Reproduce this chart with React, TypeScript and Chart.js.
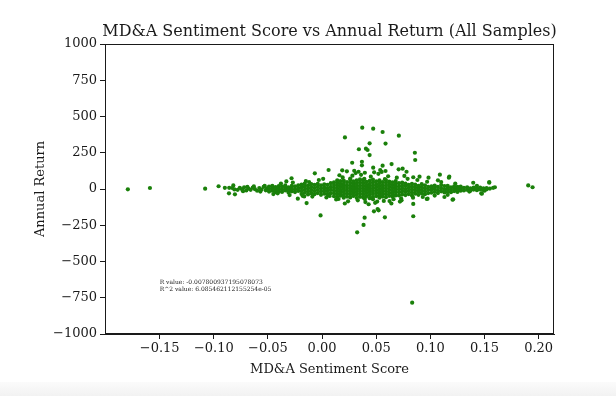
import React, { useEffect, useRef } from "react";
import { Chart, registerables } from "chart.js";

Chart.register(...registerables);

const TITLE = "MD&A Sentiment Score vs Annual Return (All Samples)";
const X_LABEL = "MD&A Sentiment Score";
const Y_LABEL = "Annual Return";
const NOTE_LINES = ["R value: -0.007800937195078073", "R^2 value: 6.085462112155254e-05"];
const NOTE_AT = { x: -0.15, y: -700 };

const xTicks = [-0.15, -0.1, -0.05, 0, 0.05, 0.1, 0.15, 0.2];
const yTicks = [-1000, -750, -500, -250, 0, 250, 500, 750, 1000];
const X_RANGE = { min: -0.2005, max: 0.2142 };
const Y_RANGE = { min: -1000, max: 1000 };

// isolated points far from the cluster
const farOutliers: [number, number][] = [
  [-0.1794, -2], [-0.159, 7], [-0.108, 2], [-0.0956, 19], [-0.0898, 8], [-0.0858, 8],
  [-0.086, -30], [-0.0805, -37], [-0.082, 25], [0.1904, 25], [0.1944, 12], [0.1544, 48],
  [0.1476, -32], [0.1596, 12], [0.1396, 43], [0.1175, 85], [0.121, -71],
];

// points well above the cluster
const highOutliers: [number, number][] = [
  [0.0371, 423], [0.0472, 416], [0.0559, 393], [0.0709, 368], [0.0211, 356], [0.0439, 315],
  [0.0586, 313], [0.034, 274], [0.0405, 278], [0.042, 269], [0.0439, 234], [0.0857, 250],
  [0.086, 200], [0.0278, 181], [0.0368, 188], [0.0368, 163], [0.0642, 172], [0.006, 131],
  [-0.0067, 108], [0.0186, 129], [0.0229, 122], [0.0297, 126], [-0.0282, 74], [0.0337, 119],
  [0.0395, 112], [0.0472, 147], [0.0559, 161], [0.0586, 124], [0.0481, 115], [0.0537, 131],
  [0.0707, 136], [0.0744, 140], [0.078, 119], [0.0842, 81], [0.1088, 99], [0.1171, 78],
  [0.0983, 78],
];

// points well below the cluster
const lowOutliers: [number, number][] = [
  [-0.0014, -182], [0.0393, -198], [0.058, -195], [0.0842, -188], [0.0383, -248], [0.0324, -299],
  [0.0479, -154], [0.0513, -138], [0.0522, -147], [-0.0143, -97], [0.0842, -103], [0.1205, -74],
  [0.0832, -784], [0.0509, -87], [0.0623, -83], [0.0719, -87], [0.0967, -69], [0.0152, -69],
  [0.0395, -69], [-0.0224, -67], [-0.0165, -51], [0.0974, -67], [0.0734, -78],
];

// left tail of the cluster
const leftTail: [number, number][] = [
  [-0.083, 7], [-0.081, -3], [-0.078, -6], [-0.076, 8], [-0.074, -2], [-0.072, 12], [-0.07, -10],
  [-0.068, 3], [-0.066, -6], [-0.064, 10], [-0.062, -1], [-0.06, -12], [-0.058, 7], [-0.056, -4],
  [-0.054, 14], [-0.052, -9], [-0.051, 4], [-0.063, 18], [-0.057, -18], [-0.069, 15], [-0.073, -15],
  [-0.053, 22],
  [-0.049, -18], [-0.049, 0], [-0.049, 17], [-0.046, -12], [-0.046, 6], [-0.046, 22],
  [-0.043, -22], [-0.043, -5], [-0.043, 13], [-0.04, -15], [-0.04, 3], [-0.04, 20],
  [-0.037, -20], [-0.037, -2], [-0.037, 16], [-0.034, -10], [-0.034, 8], [-0.034, 25],
  [-0.031, -24], [-0.031, -6], [-0.031, 12], [-0.028, -16], [-0.028, 2], [-0.028, 21],
  [-0.025, -21], [-0.025, -4], [-0.025, 18], [-0.022, -13], [-0.022, 5], [-0.022, 26],
  [-0.045, -35], [-0.038, 38], [-0.03, -42], [-0.027, 45], [-0.033, 52], [-0.041, -30],
];

// centre of the cluster: x of each column and the returns read in it
const coreColsX = [
  -0.019, -0.016, -0.013, -0.01, -0.007, -0.004, -0.001, 0.002, 0.005, 0.008,
  0.011, 0.014, 0.017, 0.02, 0.023, 0.026, 0.029, 0.032, 0.035, 0.038,
  0.041, 0.044, 0.047, 0.05, 0.053, 0.056, 0.059, 0.062, 0.065, 0.068,
];
const coreColsY = [
  [-34, -12, 9, 30], [-26, -5, 16, 37], [-38, -17, 4, 24], [-30, -9, 12, 33], [-36, -14, 7, 28],
  [-28, -7, 14, 36], [-40, -18, 3, 25], [-32, -10, 11, 32], [-37, -15, 6, 29], [-29, -6, 15, 40],
  [-50, -30, -11, 8, 27, 46], [-56, -36, -16, 3, 22, 41, 60], [-46, -25, -5, 14, 33, 54],
  [-60, -40, -20, -1, 18, 37, 58], [-52, -31, -12, 7, 26, 48], [-58, -37, -17, 2, 21, 42, 63],
  [-48, -27, -8, 11, 30, 52], [-62, -41, -21, -2, 17, 38, 60], [-54, -33, -13, 6, 25, 46, 66],
  [-59, -38, -18, 1, 20, 40, 61], [-50, -29, -9, 10, 29, 50], [-63, -42, -22, -3, 16, 36, 57],
  [-55, -34, -14, 5, 24, 45, 64], [-49, -28, -8, 12, 31, 53], [-60, -39, -19, 0, 19, 39, 59],
  [-52, -31, -11, 8, 27, 48], [-57, -36, -16, 3, 22, 43, 62], [-47, -26, -6, 13, 32, 51],
  [-53, -32, -12, 7, 26, 46], [-44, -23, -3, 16, 35, 55],
];
const coreScatter: [number, number][] = [
  [-0.015, 55], [-0.009, -52], [-0.003, 62], [0.004, -58], [-0.012, 48], [0.007, -48], [-0.018, -47],
  [0.001, 70], [0.013, -72], [0.019, 80], [0.024, -85], [0.028, 92], [0.033, -78], [0.036, 98],
  [0.04, -90], [0.045, 85], [0.049, -95], [0.052, 105], [0.057, -82], [0.061, 88], [0.066, -70],
  [0.069, 78], [0.016, 95], [0.031, 110], [0.043, -105], [0.055, 118], [0.064, -100], [0.021, -100],
  [0.039, 70], [0.047, -70], [0.026, 72], [0.058, 68],
];

// right part of the cluster
const rightColsX = [
  0.071, 0.074, 0.077, 0.08, 0.083, 0.086, 0.089, 0.092, 0.095, 0.098,
  0.101, 0.104, 0.107, 0.11, 0.113, 0.116, 0.119, 0.122, 0.125, 0.128,
  0.131, 0.134, 0.137, 0.14, 0.143, 0.146, 0.149, 0.152,
];
const rightColsY = [
  [-44, -22, -2, 18, 40], [-38, -16, 4, 24, 45], [-42, -20, 0, 21, 38], [-35, -13, 8, 28],
  [-45, -24, -4, 16, 36], [-32, -10, 10, 30], [-40, -18, 2, 22], [-30, -9, 12, 33],
  [-36, -15, 5, 26], [-28, -6, 14],
  [-26, -4, 18], [-20, 2, 24], [-28, -8, 14], [-16, 5, 27], [-24, -3, 20], [-18, 4, 22],
  [-22, -6, 12], [-14, 3, 19], [-20, -2, 15], [-12, 4, 17],
  [-10, 8], [-6, 12], [-12, 5], [-4, 10], [-8, 6], [-3, 9], [-7, 4], [-2, 6],
];
const rightScatter: [number, number][] = [
  [0.073, -65], [0.079, 70], [0.084, -60], [0.088, 62], [0.093, -55], [0.097, 50], [0.076, 90],
  [0.09, 85], [0.104, -45], [0.11, 48], [0.116, -40], [0.123, 38], [0.107, 60], [0.113, -55],
  [0.155, 3], [0.158, 8], [0.1544, 43], [0.147, -30], [0.136, -18], [0.143, 22], [0.15, -12],
];

const POINT_COLOR = "#1a800a";
const FONT = "'DejaVu Serif', serif";
const INK = "#1a1a1a";

const minus = (v: number, d: number) => {
  const s = Math.abs(v).toFixed(d);
  return v < -1e-12 ? "\u2212" + s : s;
};

const columns = (xs: number[], ys: number[][]): [number, number][] =>
  xs.flatMap((x, i) => ys[i].map((y) => [x, y] as [number, number]));

const framePlugin = {
  id: "frameAndNote",
  afterDraw(chart: any) {
    const { ctx, chartArea, scales } = chart;
    ctx.save();
    ctx.strokeStyle = INK;
    ctx.lineWidth = 1;
    ctx.strokeRect(chartArea.left + 0.5, chartArea.top + 0.5, chartArea.right - chartArea.left - 1, chartArea.bottom - chartArea.top - 1);
    // title centred over the plot area
    ctx.fillStyle = INK;
    ctx.font = "16px " + FONT;
    ctx.textAlign = "center";
    ctx.textBaseline = "alphabetic";
    ctx.fillText(TITLE, (chartArea.left + chartArea.right) / 2, chartArea.top - 8);
    // regression note
    ctx.font = "6px " + FONT;
    ctx.textAlign = "left";
    const nx = scales.x.getPixelForValue(NOTE_AT.x);
    const ny = scales.y.getPixelForValue(NOTE_AT.y);
    NOTE_LINES.forEach((line, i) => {
      ctx.fillText(line, nx, ny - (NOTE_LINES.length - 1 - i) * 7);
    });
    ctx.restore();
  },
};

export default function App() {
  const ref = useRef<HTMLCanvasElement>(null);
  useEffect(() => {
    const all: [number, number][] = [
      ...farOutliers,
      ...highOutliers,
      ...lowOutliers,
      ...leftTail,
      ...columns(coreColsX, coreColsY),
      ...coreScatter,
      ...columns(rightColsX, rightColsY),
      ...rightScatter,
    ];
    const tickFont = { family: FONT, size: 13 };
    const chart = new Chart(ref.current!, {
      type: "scatter",
      data: {
        datasets: [
          {
            data: all.map(([x, y]) => ({ x, y })),
            backgroundColor: POINT_COLOR,
            borderColor: POINT_COLOR,
            borderWidth: 0,
            pointRadius: 2.1,
          },
        ],
      },
      options: {
        responsive: false,
        animation: false,
        devicePixelRatio: 1,
        layout: { padding: { left: 0, right: 62, top: 44, bottom: 0 } },
        plugins: {
          legend: { display: false },
          tooltip: { enabled: false },
          title: { display: false },
        },
        scales: {
          x: {
            type: "linear",
            min: X_RANGE.min,
            max: X_RANGE.max,
            afterBuildTicks: (s: any) => {
              s.ticks = xTicks.map((value) => ({ value }));
            },
            afterFit: (s: any) => {
              s.height = 62;
            },
            ticks: {
              callback: (v: any) => minus(Number(v), 2),
              font: tickFont,
              color: INK,
              padding: 2,
              maxRotation: 0,
            },
            grid: { display: true, drawOnChartArea: false, drawTicks: true, tickLength: 5, tickColor: INK },
            border: { display: true, color: INK },
            title: {
              display: true,
              text: X_LABEL,
              color: INK,
              font: { family: FONT, size: 13 },
              padding: { top: 0, bottom: 19 },
            },
          },
          y: {
            type: "linear",
            min: Y_RANGE.min,
            max: Y_RANGE.max,
            afterBuildTicks: (s: any) => {
              s.ticks = yTicks.map((value) => ({ value }));
            },
            afterFit: (s: any) => {
              s.width = 105;
            },
            ticks: {
              callback: (v: any) => minus(Number(v), 0),
              font: tickFont,
              color: INK,
              padding: 3,
            },
            grid: { display: true, drawOnChartArea: false, drawTicks: true, tickLength: 5, tickColor: INK },
            border: { display: true, color: INK },
            title: {
              display: true,
              text: Y_LABEL,
              color: INK,
              font: { family: FONT, size: 13 },
              padding: { top: 33, bottom: 0 },
            },
          },
        },
      },
      plugins: [framePlugin],
    });
    return () => chart.destroy();
  }, []);

  return (
    <div style={{ position: "fixed", left: 0, top: 0, width: 616, height: 396, background: "#fff" }}>
      <canvas ref={ref} width={616} height={396} style={{ display: "block" }} />
      <div
        style={{
          position: "absolute",
          left: 0,
          bottom: 0,
          width: 616,
          height: 14,
          background: "linear-gradient(#fbfbfb, #f2f2f2)",
        }}
      />
    </div>
  );
}
